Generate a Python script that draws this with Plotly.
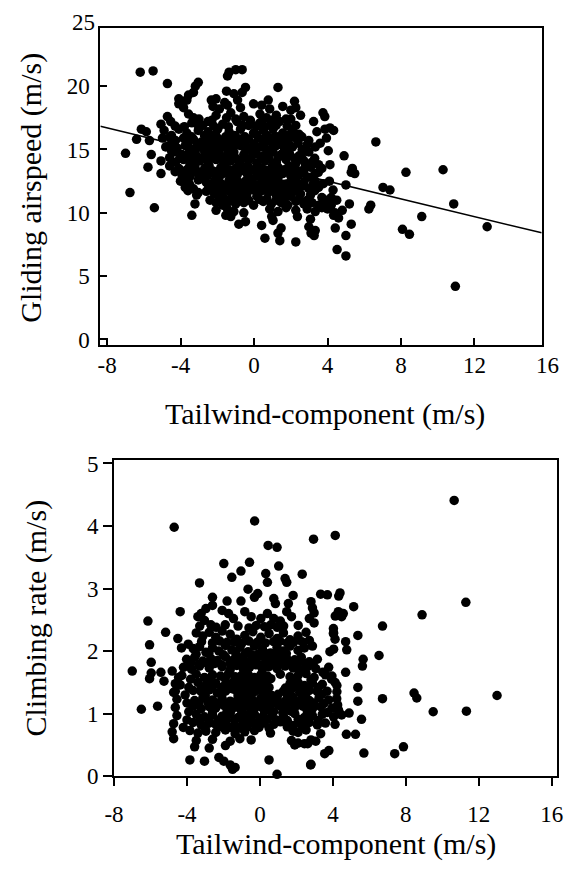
import plotly.graph_objects as go

W, H = 571, 874
FONT = "Liberation Serif"

# ---------------- Top panel: gliding airspeed vs tailwind ----------------
glide_wind_rows = [
    [-6.20, -5.50, -1.36, -1.00, -0.65, -1.45],
    [-4.72, -3.04, -0.47, 1.30, -3.20],
    [-3.30, -3.57, -1.50, -1.10, -0.65, -3.85, 2.20, -4.10],
    [-4.10, -3.66, -2.33, -2.07, -1.60, -0.90, -0.03, 0.77, 2.27],
    [-3.84, -2.24, -1.89, -1.45, -0.74, 0.41, 0.85, 1.56, 2.00],
    [-4.72, -3.57, -3.30, -2.07, -1.27, -0.56, 0.32, 0.68, 1.21, 1.74, 2.53],
    [-5.07, -4.54, -3.39, -3.04, -2.51, -1.71, -0.92, -0.30, 0.32, 0.94, 1.38, 2.27, 3.24],
    [-6.14, -5.87, -4.90, -4.10, -3.66, -3.04, -2.51, -1.98, -1.36, -0.74, -0.03, 0.50, 1.03, 1.56, 2.09, 2.45, 3.42, 3.86],
    [-6.40, -5.70, -4.99, -4.28, -3.84, -3.30, -2.86, -2.33, -1.80, -1.27, -0.83, -0.30, 0.23, 0.85, 1.38, 1.83, 2.36, 2.98],
    [-4.81, -4.19, -3.75, -3.39, -2.95, -2.51, -2.07, -1.63, -1.18, -0.74, -0.21, 0.32, 0.68, 1.21, 1.65, 2.09, 2.62, 3.33, 3.60],
    [-7.00, -5.60, -4.37, -3.93, -3.57, -3.13, -2.69, -2.24, -1.89, -1.45, -1.10, -0.56, -0.03, 0.50, 1.03, 1.47, 1.92, 2.45, 2.98],
    [-5.07, -4.28, -3.84, -3.39, -2.95, -2.51, -2.07, -1.63, -1.27, -0.83, -0.30, 0.15, 0.59, 1.21, 1.74, 2.27, 2.71, 3.15, 3.51],
    [-5.78, -4.10, -3.66, -3.22, -2.69, -2.24, -1.80, -1.36, -1.00, -0.56, -0.12, 0.41, 0.85, 1.30, 1.65, 2.09, 2.53, 3.07, 3.69],
    [-5.07, -3.93, -3.48, -3.04, -2.51, -2.07, -1.71, -1.27, -0.92, -0.39, 0.15, 0.50, 1.03, 1.56, 2.00, 2.45, 2.89, 3.33],
    [-4.01, -3.57, -3.04, -2.60, -2.16, -1.80, -1.36, -0.83, -0.47, -0.03, 0.50, 0.85, 1.30, 1.83, 2.27, 2.71, 3.33, 3.77],
    [-3.75, -3.30, -3.04, -2.24, -1.80, -1.36, -0.92, -0.47, -0.03, 0.59, 0.94, 1.38, 1.92, 2.45, 2.98, 3.51],
    [-6.76, -3.13, -2.16, -1.71, -1.27, -0.92, -0.39, 0.15, 0.77, 1.21, 1.56, 2.00, 2.53, 3.07, 3.69],
    [-3.22, -2.07, -1.71, -1.36, -1.00, -0.56, -0.03, 0.50, 0.94, 1.47, 1.83, 2.27, 2.71, 3.15, 3.51, 3.86],
    [-5.43, -2.07, -1.45, -1.10, -0.56, 0.85, 1.30, 1.74, 2.27, 2.89, 3.33, 3.69],
    [-3.39, -1.54, -1.27, 0.96, 2.36, 3.07],
    [-0.83, -0.47, 0.41, 1.03, 1.47, 2.98, 3.33],
    [0.59, 1.30, 1.40, 2.27, 3.10, 3.27],
    [3.94, 4.13, 4.33, 3.75, 3.85, 4.04, 4.13, 4.90, 5.00, 5.29, 5.48, 5.35, 5.19, 5.29, 4.42, 4.52, 5.00, 5.00,
     4.33, 6.63, 6.25, 6.35, 7.02, 7.40, 8.27, 8.08, 8.46, 9.13, 10.29, 10.87, 10.96, 12.69, 3.94, 4.20, 4.00,
     4.40, 4.10, 4.30, 4.50, 4.60, 4.20, 4.80],
    # dense core
    [-3.00, -2.30, -1.50, -1.00, -0.20, 0.50, 1.00, 2.00],
    [-4.50, -3.50, -2.70, -2.10, -1.55, -1.05, -0.50, 0.10, 0.70, 1.25, 1.80, 2.60],
    [-4.50, -3.60, -3.10, -2.70, -2.30, -1.85, -1.40, -0.95, -0.50, 0.00, 0.50, 1.00, 1.45, 1.90, 2.40, 2.90],
    [-4.60, -4.05, -3.60, -3.15, -2.70, -2.30, -1.85, -1.45, -1.05, -0.60, -0.15, 0.35, 0.80, 1.30, 1.75, 2.20, 2.60, 3.30],
    [-4.30, -3.80, -3.30, -2.90, -2.40, -1.95, -1.55, -1.15, -0.75, -0.30, 0.30, 0.75, 1.20, 1.80, 2.30, 2.70, 3.50],
    [-3.50, -2.50, -2.00, -1.60, -1.15, -0.70, -0.25, 0.30, 0.75, 1.15, 1.65, 2.20, 2.70, 3.20],
    [-2.40, -1.90, -1.50, -1.15, -0.75, -0.30, 0.30, 0.70, 1.20, 1.65, 2.45, 2.90],
    [-4.30, -3.80, -2.80, -2.20, -1.40, -0.60, 0.10, 0.60, 1.20, 1.80],
    [-4.60, -3.40, -2.60, -2.00, -1.00, -0.55, 0.60, 1.10, 2.20],
    [-4.50, -3.20, -2.30, -1.40, -0.45, 0.10, 0.90, 1.80, 2.70],
    [-4.60, -3.50, -2.45, -1.60, -0.80, -0.35, 0.20, 1.00, 1.90, 2.80],
    [-3.80, -2.80, -1.90, -1.05, -0.20, 0.70, 1.30, 2.20, 3.10],
    [-3.60, -2.60, -1.55, -0.65, 0.35, 1.10, 1.70, 2.20, 3.30],
]
glide_speed_rows = [
    [21.1, 21.2, 21.1, 21.3, 21.3, 20.8],
    [20.2, 20.3, 19.9, 19.9, 20.0],
    [19.5, 19.3, 19.6, 19.4, 19.5, 18.8, 18.8, 19.0],
    [18.6, 18.9, 18.9, 19.0, 18.7, 18.9, 18.6, 18.9, 18.3],
    [18.3, 18.4, 18.2, 18.5, 18.3, 18.5, 18.2, 18.4, 18.1],
    [17.6, 17.8, 17.5, 17.7, 17.9, 17.6, 17.8, 17.5, 17.7, 17.4, 17.7],
    [17.0, 17.2, 17.1, 16.9, 17.2, 17.0, 17.2, 16.9, 17.1, 17.0, 17.2, 16.9, 17.2],
    [16.6, 16.4, 16.5, 16.6, 16.3, 16.5, 16.4, 16.6, 16.4, 16.6, 16.3, 16.5, 16.6, 16.3, 16.5, 16.2, 16.4, 16.6],
    [15.8, 15.7, 15.9, 15.7, 15.9, 15.8, 15.6, 15.9, 15.7, 15.9, 15.6, 15.8, 15.9, 15.7, 15.8, 15.6, 15.9, 15.7],
    [15.2, 15.1, 15.3, 15.0, 15.2, 15.3, 15.1, 15.2, 15.0, 15.3, 15.1, 15.2, 15.0, 15.3, 15.1, 15.2, 15.0, 15.2, 15.5],
    [14.7, 14.6, 14.8, 14.6, 14.7, 14.5, 14.8, 14.6, 14.7, 14.5, 14.8, 14.6, 14.7, 14.5, 14.8, 14.6, 14.7, 14.5, 14.8],
    [14.1, 14.0, 14.2, 13.9, 14.1, 14.0, 14.2, 13.9, 14.1, 14.0, 14.2, 13.9, 14.1, 14.0, 14.2, 13.9, 14.1, 14.0, 13.8],
    [13.6, 13.5, 13.4, 13.6, 13.5, 13.3, 13.6, 13.4, 13.5, 13.6, 13.4, 13.5, 13.3, 13.6, 13.4, 13.5, 13.3, 13.6, 13.5],
    [13.1, 13.0, 12.9, 13.1, 13.0, 12.8, 13.1, 12.9, 13.0, 13.1, 12.9, 13.0, 12.8, 13.1, 12.9, 13.0, 12.8, 13.1],
    [12.5, 12.4, 12.6, 12.4, 12.5, 12.3, 12.6, 12.4, 12.5, 12.3, 12.6, 12.4, 12.5, 12.3, 12.6, 12.4, 12.5, 12.3],
    [12.0, 11.9, 11.6, 12.0, 11.8, 12.1, 11.9, 12.0, 11.8, 12.1, 11.9, 12.0, 11.8, 12.1, 11.9, 12.0],
    [11.6, 11.4, 11.5, 11.3, 11.6, 11.4, 11.5, 11.3, 11.6, 11.4, 11.5, 11.3, 11.5, 11.4, 11.2],
    [10.7, 10.8, 10.6, 10.9, 10.7, 10.8, 10.6, 10.9, 10.7, 10.8, 10.6, 10.9, 10.7, 10.8, 10.6, 10.9],
    [10.4, 10.2, 10.3, 10.1, 10.0, 10.3, 10.1, 10.4, 10.2, 10.3, 10.1, 10.4],
    [9.8, 9.8, 9.7, 9.7, 9.7, 9.5],
    [9.1, 9.3, 9.0, 9.4, 8.8, 8.9, 8.6],
    [8.0, 8.4, 7.8, 7.7, 8.4, 8.2],
    [15.9, 16.7, 16.5, 17.9, 17.6, 14.9, 13.8, 14.5, 12.2, 13.2, 13.1, 13.5, 10.7, 9.1, 8.8, 7.1, 6.6, 8.2,
     9.8, 15.6, 10.3, 10.6, 12.0, 11.8, 13.2, 8.7, 8.3, 9.7, 13.4, 10.7, 4.2, 8.9, 11.0, 11.2, 10.3,
     10.0, 12.5, 11.8, 11.0, 9.6, 10.6, 10.2],
    [17.4, 17.3, 17.5, 17.4, 17.3, 17.4, 17.3, 17.4],
    [16.1, 16.0, 16.1, 16.2, 16.0, 16.1, 16.0, 16.2, 16.1, 16.0, 16.1, 16.0],
    [15.45, 15.5, 15.4, 15.5, 15.4, 15.45, 15.5, 15.4, 15.5, 15.45, 15.4, 15.5, 15.45, 15.4, 15.5, 15.4],
    [14.35, 14.3, 14.4, 14.3, 14.35, 14.4, 14.3, 14.35, 14.4, 14.3, 14.35, 14.4, 14.3, 14.35, 14.4, 14.3, 14.35, 14.3],
    [13.25, 13.2, 13.3, 13.2, 13.25, 13.3, 13.2, 13.25, 13.3, 13.2, 13.25, 13.3, 13.2, 13.25, 13.3, 13.2, 13.2],
    [12.2, 12.25, 12.2, 12.15, 12.25, 12.2, 12.15, 12.25, 12.2, 12.15, 12.25, 12.2, 12.15, 12.2],
    [11.0, 11.1, 11.0, 11.05, 11.1, 11.0, 11.05, 11.1, 11.0, 11.05, 11.1, 11.0],
    [16.85, 16.8, 16.9, 16.85, 16.8, 16.9, 16.85, 16.8, 16.9, 16.85],
    [15.95, 16.0, 15.95, 15.9, 16.0, 15.95, 15.9, 16.0, 15.95],
    [14.9, 14.95, 14.9, 14.85, 14.95, 14.9, 14.85, 14.95, 14.9],
    [13.7, 13.75, 13.7, 13.65, 13.75, 13.7, 13.65, 13.75, 13.7, 13.7],
    [12.75, 12.7, 12.8, 12.75, 12.7, 12.8, 12.75, 12.7, 12.8],
    [11.75, 11.7, 11.8, 11.75, 11.7, 11.8, 11.75, 11.7, 11.75],
]

# regression line of the top panel
glide_fit_intercept = 13.9
glide_fit_slope = -0.35

# ---------------- Bottom panel: climbing rate vs tailwind ----------------
climb_wind_rows = [
    [-4.70, -0.29, 10.65, 11.29, 8.89, 6.72, 6.53, 6.72, 8.45, 8.60, 9.50, 11.32, 13.00, 7.39, 7.87, 5.70, 2.94, 4.13],
    [0.45, 0.94, -1.98, -0.57, 1.03, -1.04, -1.54, 0.32, 0.41, 1.38, 1.47, 2.32, -3.31, -0.65, -0.12, -0.30, 1.82,
     3.33, -2.60, -1.80, -1.04, 0.76, 0.85, 1.56, 2.80, 2.88, 2.97, 4.39],
    [-6.14, -4.37, -5.17, -6.05, -7.00, -5.96, -5.96, -6.05, -5.43, -5.26, -4.81, -4.46, -4.37, -4.64, -6.50, -5.61, -4.50, -4.30],
    [-3.22, -2.96, -2.60, -3.40, -3.04, -2.69, -2.07, -1.72, -1.45, -0.83, -0.48, 0.05, 0.41, 0.76, 1.12, 1.47, 1.73, 2.71, 2.97, 4.30, 4.48],
    [-3.49, -3.13, -2.78, -2.42, -2.07, -1.63, -1.27, -0.83, -0.39, 0.05, 0.50, 0.94, 1.29, 1.65, 2.09, 2.53, 2.71, 2.88, 4.04, 4.12],
    [-3.93, -3.66, -3.31, -2.96, -2.60, -2.25, -1.89, -1.54, -1.10, -0.65, -0.30, 0.14, 0.58, 0.94, 1.29, 1.65, 2.09, 2.44, 4.04],
    [-4.02, -3.58, -3.13, -2.69, -2.34, -1.89, -1.45, -1.01, -0.65, -0.30, 0.05, 0.41, 0.76, 1.12, 1.47, 1.91, 2.27, 2.71, 3.15],
    [-4.19, -3.75, -3.31, -2.78, -2.07, -1.63, -1.27, -0.92, -0.57, -0.21, 0.14, 0.50, 0.94, 1.38, 1.82, 2.18, 2.62, 3.06, 3.77],
    [-4.28, -3.49, -3.04, -2.60, -2.16, -1.72, -1.36, -1.01, -0.65, -0.30, 0.05, 0.41, 1.12, 1.65, 2.09, 2.53, 2.97, 3.59, 3.95],
    [-4.64, -3.40, -2.96, -2.42, -1.89, -1.45, -1.10, -0.74, -0.39, -0.04, 0.32, 1.65, 2.09, 2.44, 2.88, 3.42, 4.12],
    [-4.73, -3.66, -3.22, -2.78, -2.34, -1.89, -1.45, -1.01, -0.65, -0.30, 0.05, 0.41, 1.29, 1.73, 2.18, 2.71, 3.15, 3.68],
    [-4.55, -3.58, -3.13, -2.60, -2.07, -1.63, -1.19, -0.74, -0.39, 0.05, 0.50, 0.94, 1.38, 1.82, 2.27, 2.71, 3.24, 3.77, 4.21],
    [-4.64, -3.66, -3.22, -2.78, -2.42, -1.98, -1.54, -1.19, -0.74, -0.30, 0.05, 0.50, 1.03, 1.47, 1.91, 2.35, 2.88, 3.33, 3.95, 4.30],
    [-4.55, -3.49, -3.04, -2.60, -2.07, -1.63, -1.19, -0.74, -0.30, 0.14, 0.67, 1.29, 1.91, 2.44, 2.88, 3.42, 4.04, 4.48],
    [-4.73, -3.66, -3.22, -2.78, -2.42, -1.89, -1.36, -0.92, -0.48, -0.21, 0.23, 0.76, 1.12, 1.82, 2.18, 2.71, 3.15, 3.59, 4.12],
    [-4.81, -3.84, -3.40, -2.96, -2.42, -1.89, -1.36, -0.83, -0.30, 0.58, 1.82, 2.09, 2.53, 3.33],
    [-4.73, -3.49, -2.60, -1.63, -1.10, -0.48, 1.73, 2.09, 2.44, 2.80],
    [-3.58, -2.78, -1.89, 1.91, 2.62, 3.06],
    [-3.84, -3.04, -2.25, -1.98, -1.63, 0.50, -1.36, 2.80, -1.50, 0.94],
    [5.37, 5.66, 5.62, 5.37, 5.37, 5.57, 5.24, 5.14, 4.70, 4.76, 4.70, 4.89, 4.74, 4.32, 4.57, 4.13, 4.03, 4.22,
     4.22, 4.26, 4.32, 3.84, 3.93, 3.45, 3.55, 3.78, 2.78, 4.03, 3.70],
    # dense core
    [-3.30, -2.40, -1.90, -1.20, -0.60, -0.20, 0.25, 0.60, 0.95, 1.30, 2.10],
    [-3.20, -2.60, -2.20, -1.80, -1.40, -1.00, -0.60, -0.15, 0.30, 0.75, 1.10, 1.50, 1.85, 2.30],
    [-3.80, -3.35, -2.90, -2.50, -2.10, -1.65, -1.25, -0.85, -0.45, -0.10, 0.25, 0.60, 0.95, 1.30, 1.70, 2.10, 2.50, 2.90],
    [-3.90, -3.20, -2.60, -2.10, -1.70, -1.30, -0.90, -0.55, -0.20, 0.15, 0.50, 1.40, 1.90, 2.30, 2.70, 3.20],
    [-4.00, -3.35, -2.85, -2.35, -1.85, -1.40, -0.95, -0.55, -0.15, 0.30, 0.75, 1.15, 1.60, 2.05, 2.50, 2.95, 3.50],
    [-4.00, -3.25, -2.80, -2.30, -1.85, -1.40, -0.95, -0.50, -0.05, 0.40, 0.90, 1.50, 2.10, 2.60, 3.20],
    [-3.50, -2.80, -2.00, -1.30, -0.80, -0.45, -0.10, 0.30, 0.75, 1.10, 1.45],
    [-3.80, -2.80, -1.90, -1.20, -0.85, -0.50, -0.20, 0.20, 0.60, 1.90, 2.80],
    [-4.10, -3.00, -2.10, -1.20, -0.80, -0.45, 0.20, 0.65, 1.00, 1.50, 2.50, 3.40],
    [-3.90, -2.60, -1.80, -1.00, -0.50, 0.25, 0.75, 1.25, 1.70, 2.60, 3.70],
    [-4.20, -3.00, -2.10, -1.60, -1.10, -0.70, -0.05, 0.50, 1.50, 2.40],
]
climb_rate_rows = [
    [3.98, 4.08, 4.41, 2.78, 2.58, 2.40, 1.93, 1.24, 1.33, 1.25, 1.03, 1.04, 1.29, 0.36, 0.47, 0.37, 3.79, 3.85],
    [3.69, 3.66, 3.40, 3.42, 3.36, 3.28, 3.18, 3.24, 3.10, 3.16, 3.10, 3.23, 3.09, 2.99, 2.92, 2.86, 2.89,
     2.91, 2.86, 2.80, 2.80, 2.84, 2.76, 2.76, 2.79, 2.69, 2.61, 2.93],
    [2.48, 2.63, 2.30, 2.10, 1.68, 1.82, 1.65, 1.56, 1.66, 1.52, 1.68, 1.58, 1.46, 1.36, 1.07, 1.12, 2.20, 2.05],
    [2.60, 2.68, 2.73, 2.55, 2.49, 2.42, 2.65, 2.60, 2.52, 2.63, 2.55, 2.52, 2.60, 2.52, 2.48, 2.63, 2.55, 2.52, 2.45, 2.63, 2.55],
    [2.29, 2.24, 2.30, 2.22, 2.32, 2.27, 2.19, 2.25, 2.31, 2.22, 2.28, 2.20, 2.29, 2.18, 2.24, 2.30, 2.17, 2.08, 2.29, 2.19],
    [2.11, 2.04, 2.07, 1.98, 2.05, 2.00, 2.09, 2.02, 2.06, 1.99, 2.08, 2.03, 1.97, 2.06, 2.00, 2.08, 2.01, 2.05, 2.03],
    [1.87, 1.90, 1.84, 1.88, 1.85, 1.91, 1.86, 1.89, 1.83, 1.88, 1.92, 1.85, 1.89, 1.84, 1.88, 1.86, 1.90, 1.83, 1.87],
    [1.74, 1.71, 1.76, 1.73, 1.75, 1.70, 1.77, 1.72, 1.74, 1.78, 1.71, 1.75, 1.72, 1.76, 1.73, 1.70, 1.75, 1.72, 1.74],
    [1.61, 1.63, 1.58, 1.62, 1.60, 1.64, 1.59, 1.61, 1.63, 1.58, 1.62, 1.60, 1.63, 1.59, 1.61, 1.64, 1.58, 1.62, 1.60],
    [1.48, 1.50, 1.46, 1.49, 1.47, 1.51, 1.45, 1.49, 1.48, 1.52, 1.46, 1.48, 1.50, 1.45, 1.49, 1.47, 1.50],
    [1.34, 1.37, 1.35, 1.38, 1.33, 1.36, 1.39, 1.34, 1.37, 1.35, 1.38, 1.33, 1.36, 1.39, 1.34, 1.37, 1.35, 1.36],
    [1.23, 1.21, 1.25, 1.22, 1.24, 1.20, 1.26, 1.23, 1.21, 1.25, 1.22, 1.24, 1.20, 1.26, 1.23, 1.21, 1.25, 1.22, 1.24],
    [1.10, 1.12, 1.08, 1.11, 1.09, 1.13, 1.07, 1.10, 1.12, 1.08, 1.11, 1.09, 1.13, 1.07, 1.10, 1.12, 1.08, 1.11, 1.09, 1.06],
    [0.97, 0.99, 0.95, 0.98, 0.96, 1.00, 0.94, 0.97, 0.99, 0.95, 0.98, 0.96, 1.00, 0.94, 0.97, 0.99, 0.95, 0.98],
    [0.84, 0.86, 0.82, 0.85, 0.83, 0.87, 0.81, 0.84, 0.86, 0.82, 0.85, 0.83, 0.87, 0.81, 0.84, 0.86, 0.82, 0.85, 0.83],
    [0.71, 0.73, 0.69, 0.72, 0.70, 0.74, 0.68, 0.71, 0.73, 0.69, 0.72, 0.70, 0.74, 0.68],
    [0.60, 0.57, 0.59, 0.56, 0.60, 0.58, 0.57, 0.53, 0.52, 0.58],
    [0.47, 0.45, 0.49, 0.50, 0.52, 0.56],
    [0.26, 0.24, 0.30, 0.24, 0.18, 0.26, 0.14, 0.19, 0.11, 0.03],
    [2.25, 1.87, 1.76, 1.42, 1.20, 0.91, 0.67, 2.71, 2.15, 2.02, 1.66, 1.01, 0.67, 2.88, 2.60, 2.56, 2.36, 1.45,
     1.35, 1.14, 1.04, 1.99, 1.55, 1.66, 0.36, 0.41, 0.18, 2.28, 2.90],
    [2.40, 2.38, 2.42, 2.40, 2.37, 2.41, 2.39, 2.42, 2.38, 2.40, 2.41],
    [2.15, 2.13, 2.16, 2.14, 2.15, 2.12, 2.16, 2.14, 2.13, 2.15, 2.16, 2.13, 2.14, 2.15],
    [1.80, 1.79, 1.81, 1.80, 1.78, 1.81, 1.79, 1.80, 1.82, 1.79, 1.80, 1.81, 1.78, 1.80, 1.79, 1.81, 1.80, 1.78],
    [1.42, 1.41, 1.43, 1.42, 1.40, 1.43, 1.41, 1.42, 1.43, 1.40, 1.42, 1.41, 1.43, 1.42, 1.40, 1.42],
    [1.17, 1.16, 1.18, 1.17, 1.15, 1.18, 1.16, 1.17, 1.18, 1.15, 1.17, 1.16, 1.18, 1.17, 1.15, 1.17, 1.16],
    [0.90, 0.91, 0.89, 0.90, 0.92, 0.89, 0.91, 0.90, 0.88, 0.91, 0.90, 0.89, 0.91, 0.90, 0.89],
    [1.95, 1.96, 1.94, 1.95, 1.96, 1.94, 1.95, 1.96, 1.94, 1.95, 1.96],
    [1.55, 1.54, 1.56, 1.55, 1.54, 1.56, 1.55, 1.54, 1.56, 1.55, 1.54],
    [1.30, 1.29, 1.31, 1.30, 1.29, 1.31, 1.30, 1.29, 1.31, 1.30, 1.29, 1.31],
    [1.03, 1.02, 1.04, 1.03, 1.02, 1.04, 1.03, 1.02, 1.04, 1.03, 1.02],
    [0.78, 0.77, 0.79, 0.78, 0.77, 0.79, 0.78, 0.77, 0.79, 0.78],
]

# ---------------- axis ticks / ranges ----------------
top_x_ticks = [-8, -4, 0, 4, 8, 12]
top_x_extra_label = 16
top_y_ticks = [0, 5, 10, 15, 20]
top_y_extra_label = 25
top_x_range = [-8.37, 15.66]
top_y_range = [-0.46, 24.55]

bot_x_ticks = [-8, -4, 0, 4, 8, 12, 16]
bot_y_ticks = [0, 1, 2, 3, 4, 5]
bot_x_range = [-8.0, 16.3]
bot_y_range = [0.0, 5.05]

x_title = "Tailwind-component (m/s)"
top_y_title = "Gliding airspeed (m/s)"
bot_y_title = "Climbing rate (m/s)"


def flat(xrows, yrows):
    xs, ys = [], []
    for i, (a, b) in enumerate(zip(xrows, yrows)):
        assert len(a) == len(b), (i, len(a), len(b))
        xs += a
        ys += b
    return xs, ys


glide_wind, glide_speed = flat(glide_wind_rows, glide_speed_rows)
climb_wind, climb_rate = flat(climb_wind_rows, climb_rate_rows)

# pixel boxes of the two plot areas
TOP = dict(l=93, r=547, t=20, b=345)
BOT = dict(l=107, r=563, t=463, b=787)


def xdom(b):
    return [b["l"] / W, b["r"] / W]


def ydom(b):
    return [1 - b["b"] / H, 1 - b["t"] / H]


marker = dict(color="black", size=9.5, symbol="circle", line=dict(width=0))

fig = go.Figure()
fig.add_trace(go.Scatter(x=glide_wind, y=glide_speed, mode="markers", marker=marker,
                         xaxis="x", yaxis="y", showlegend=False, cliponaxis=False))
line_x = list(top_x_range)
line_y = [glide_fit_intercept + glide_fit_slope * v for v in line_x]
fig.add_trace(go.Scatter(x=line_x, y=line_y, mode="lines", line=dict(color="black", width=1.5),
                         xaxis="x", yaxis="y", showlegend=False))
fig.add_trace(go.Scatter(x=climb_wind, y=climb_rate, mode="markers", marker=marker,
                         xaxis="x2", yaxis="y2", showlegend=False, cliponaxis=False))

tickfont = dict(family=FONT, size=23, color="black")
common = dict(showline=True, mirror=True, linecolor="black", linewidth=2, showgrid=False,
              zeroline=False, tickcolor="black", tickwidth=2, tickfont=tickfont, tickmode="array")


def labels(vals):
    return [str(v) for v in vals]


fig.update_layout(
    width=W, height=H, margin=dict(l=0, r=0, t=0, b=0),
    paper_bgcolor="white", plot_bgcolor="white",
    font=dict(family=FONT, color="black"),
    xaxis=dict(domain=xdom(TOP), range=top_x_range, tickvals=top_x_ticks, ticktext=labels(top_x_ticks),
               ticks="inside", ticklen=7, anchor="y", ticklabelstandoff=-2, **common),
    yaxis=dict(domain=ydom(TOP), range=top_y_range, tickvals=top_y_ticks, ticktext=labels(top_y_ticks),
               ticks="inside", ticklen=7, anchor="x", ticklabelstandoff=4, **common),
    xaxis2=dict(domain=xdom(BOT), range=bot_x_range, tickvals=bot_x_ticks, ticktext=labels(bot_x_ticks),
                ticks="outside", ticklen=8, anchor="y2", ticklabelstandoff=8, **common),
    yaxis2=dict(domain=ydom(BOT), range=bot_y_range, tickvals=bot_y_ticks, ticktext=labels(bot_y_ticks),
                ticks="outside", ticklen=9, anchor="x2", **common),
)


def px_x_top(v):
    return TOP["l"] + (v - top_x_range[0]) / (top_x_range[1] - top_x_range[0]) * (TOP["r"] - TOP["l"])


def px_y_top(v):
    return TOP["b"] - (v - top_y_range[0]) / (top_y_range[1] - top_y_range[0]) * (TOP["b"] - TOP["t"])


titlefont = dict(family=FONT, size=30, color="black")
annotations = [
    # tick labels that fall just outside the top frame
    dict(text=str(top_x_extra_label), x=px_x_top(top_x_extra_label) / W, y=1 - 366 / H,
         xanchor="center", yanchor="middle", font=tickfont),
    dict(text=str(top_y_extra_label), x=89 / W, y=1 - px_y_top(top_y_extra_label) / H,
         xanchor="right", yanchor="middle", font=tickfont),
    # axis titles
    dict(text=x_title, x=324 / W, y=1 - 415 / H, xanchor="center", yanchor="middle", font=titlefont),
    dict(text=x_title, x=335 / W, y=1 - 857 / H, xanchor="center", yanchor="middle", font=titlefont),
    dict(text=top_y_title, x=22 / W, y=1 - 183 / H, xanchor="center", yanchor="middle",
         textangle=-90, font=titlefont),
    dict(text=bot_y_title, x=27 / W, y=1 - 625 / H, xanchor="center", yanchor="middle",
         textangle=-90, font=titlefont),
]
for a in annotations:
    a.update(xref="paper", yref="paper", showarrow=False)
fig.update_layout(annotations=annotations)

fig.write_html("out.html")
